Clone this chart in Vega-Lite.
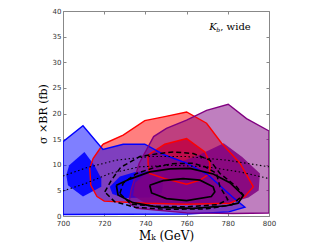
{
  "$schema": "https://vega.github.io/schema/vega-lite/v6.json",
  "width": 206,
  "height": 205,
  "autosize": {"type": "none"},
  "padding": {"left": 63, "top": 11, "right": 63, "bottom": 33},
  "background": "white",
  "config": {"view": {"stroke": null}},
  "datasets": {
    "poly": [
      {"g":"ro","i":1,"M":719.4,"s":14.0},{"g":"ro","i":2,"M":729.2,"s":15.8},{"g":"ro","i":3,"M":739.7,"s":18.6},{"g":"ro","i":4,"M":749.4,"s":19.4},{"g":"ro","i":5,"M":760,"s":20.3},{"g":"ro","i":6,"M":769.7,"s":18.1},{"g":"ro","i":7,"M":777,"s":14.2},{"g":"ro","i":8,"M":785.9,"s":10.3},{"g":"ro","i":9,"M":792.4,"s":5.7},{"g":"ro","i":10,"M":788.3,"s":3.8},{"g":"ro","i":11,"M":781,"s":2.5},{"g":"ro","i":12,"M":760,"s":2.3},{"g":"ro","i":13,"M":740,"s":2.5},{"g":"ro","i":14,"M":720,"s":2.9},{"g":"ro","i":15,"M":716.5,"s":3.8},{"g":"ro","i":16,"M":713.5,"s":6.0},{"g":"ro","i":17,"M":713,"s":9.3},{"g":"ro","i":18,"M":714.6,"s":11.2},{"g":"ro","i":19,"M":719.4,"s":14.0},
      {"g":"ri","i":1,"M":741.3,"s":11.9},{"g":"ri","i":2,"M":749.4,"s":14.0},{"g":"ri","i":3,"M":760,"s":15.1},{"g":"ri","i":4,"M":768.9,"s":12.5},{"g":"ri","i":5,"M":771.3,"s":10.3},{"g":"ri","i":6,"M":771.3,"s":8.3},{"g":"ri","i":7,"M":766.5,"s":7.0},{"g":"ri","i":8,"M":760,"s":6.2},{"g":"ri","i":9,"M":749.4,"s":7.3},{"g":"ri","i":10,"M":742,"s":8.3},{"g":"ri","i":11,"M":741.3,"s":10.3},{"g":"ri","i":12,"M":741.3,"s":11.9},
      {"g":"bo","i":1,"M":700,"s":14.5},{"g":"bo","i":2,"M":709.7,"s":17.6},{"g":"bo","i":3,"M":719.4,"s":13.0},{"g":"bo","i":4,"M":729.2,"s":14.0},{"g":"bo","i":5,"M":739.7,"s":14.0},{"g":"bo","i":6,"M":749.4,"s":11.9},{"g":"bo","i":7,"M":760,"s":10.3},{"g":"bo","i":8,"M":770.5,"s":8.0},{"g":"bo","i":9,"M":782,"s":3.8},{"g":"bo","i":10,"M":788.3,"s":1.7},{"g":"bo","i":11,"M":780.5,"s":0.8},{"g":"bo","i":12,"M":760,"s":0.4},{"g":"bo","i":13,"M":700,"s":0.3},{"g":"bo","i":14,"M":700,"s":14.5},
      {"g":"bi1","i":1,"M":710.4,"s":12.5},{"g":"bi1","i":2,"M":715.2,"s":9.9},{"g":"bi1","i":3,"M":718.6,"s":7.3},{"g":"bi1","i":4,"M":718.6,"s":5.7},{"g":"bi1","i":5,"M":709.7,"s":3.8},{"g":"bi1","i":6,"M":702.4,"s":6.0},{"g":"bi1","i":7,"M":701.6,"s":8.0},{"g":"bi1","i":8,"M":703,"s":9.9},{"g":"bi1","i":9,"M":710.4,"s":12.5},
      {"g":"bi2","i":1,"M":722.7,"s":5.7},{"g":"bi2","i":2,"M":727.6,"s":7.7},{"g":"bi2","i":3,"M":735,"s":8.6},{"g":"bi2","i":4,"M":742,"s":8.8},{"g":"bi2","i":5,"M":748.6,"s":6.5},{"g":"bi2","i":6,"M":748,"s":4.5},{"g":"bi2","i":7,"M":742,"s":3.6},{"g":"bi2","i":8,"M":730,"s":3.5},{"g":"bi2","i":9,"M":724,"s":4.3},{"g":"bi2","i":10,"M":722.7,"s":5.7},
      {"g":"po","i":1,"M":732,"s":2.5},{"g":"po","i":2,"M":733,"s":5.0},{"g":"po","i":3,"M":737,"s":10.3},{"g":"po","i":4,"M":744,"s":15.5},{"g":"po","i":5,"M":750.2,"s":17.1},{"g":"po","i":6,"M":760,"s":18.7},{"g":"po","i":7,"M":769.7,"s":20.6},{"g":"po","i":8,"M":780.2,"s":21.8},{"g":"po","i":9,"M":789.1,"s":19.0},{"g":"po","i":10,"M":800,"s":16.6},{"g":"po","i":11,"M":800,"s":0.6},{"g":"po","i":12,"M":782.7,"s":0.5},{"g":"po","i":13,"M":760,"s":0.6},{"g":"po","i":14,"M":735.7,"s":1.5},{"g":"po","i":15,"M":732,"s":2.5},
      {"g":"pi","i":1,"M":778,"s":14.2},{"g":"pi","i":2,"M":787,"s":11.5},{"g":"pi","i":3,"M":795.6,"s":8.3},{"g":"pi","i":4,"M":795,"s":5.0},{"g":"pi","i":5,"M":790,"s":3.6},{"g":"pi","i":6,"M":780,"s":2.4},{"g":"pi","i":7,"M":760,"s":2.2},{"g":"pi","i":8,"M":740,"s":2.5},{"g":"pi","i":9,"M":734,"s":4.0},{"g":"pi","i":10,"M":735,"s":6.5},{"g":"pi","i":11,"M":740,"s":8.3},{"g":"pi","i":12,"M":752,"s":9.8},{"g":"pi","i":13,"M":766,"s":11.9},{"g":"pi","i":14,"M":778,"s":14.2},
      {"g":"so","i":1,"M":725.9,"s":6.0},{"g":"so","i":2,"M":732.4,"s":7.2},{"g":"so","i":3,"M":742.1,"s":8.6},{"g":"so","i":4,"M":752,"s":9.2},{"g":"so","i":5,"M":761.6,"s":9.3},{"g":"so","i":6,"M":772.9,"s":8.2},{"g":"so","i":7,"M":781,"s":6.5},{"g":"so","i":8,"M":787.5,"s":4.0},{"g":"so","i":9,"M":785,"s":2.5},{"g":"so","i":10,"M":779.4,"s":2.0},{"g":"so","i":11,"M":763.2,"s":1.5},{"g":"so","i":12,"M":747,"s":1.7},{"g":"so","i":13,"M":734,"s":2.6},{"g":"so","i":14,"M":726.7,"s":4.1},{"g":"so","i":15,"M":725.9,"s":6.0},
      {"g":"si","i":1,"M":742.1,"s":6.0},{"g":"si","i":2,"M":748.6,"s":6.9},{"g":"si","i":3,"M":758.3,"s":7.3},{"g":"si","i":4,"M":766.5,"s":7.0},{"g":"si","i":5,"M":772.9,"s":5.7},{"g":"si","i":6,"M":773.7,"s":4.7},{"g":"si","i":7,"M":772,"s":3.8},{"g":"si","i":8,"M":760,"s":3.0},{"g":"si","i":9,"M":750.2,"s":3.4},{"g":"si","i":10,"M":743,"s":4.5},{"g":"si","i":11,"M":742.1,"s":6.0},
      {"g":"do","i":1,"M":720.3,"s":4.7},{"g":"do","i":2,"M":723.5,"s":7.0},{"g":"do","i":3,"M":728,"s":9.5},{"g":"do","i":4,"M":737.3,"s":11.6},{"g":"do","i":5,"M":747,"s":12.2},{"g":"do","i":6,"M":753.5,"s":12.5},{"g":"do","i":7,"M":763.2,"s":12.2},{"g":"do","i":8,"M":771.3,"s":10.9},{"g":"do","i":9,"M":776.2,"s":8.3},{"g":"do","i":10,"M":784.3,"s":5.7},{"g":"do","i":11,"M":787.5,"s":4.1},{"g":"do","i":12,"M":782,"s":2.2},{"g":"do","i":13,"M":770,"s":1.4},{"g":"do","i":14,"M":750,"s":1.3},{"g":"do","i":15,"M":735,"s":1.7},{"g":"do","i":16,"M":725,"s":2.8},{"g":"do","i":17,"M":720.3,"s":4.7},
      {"g":"di","i":1,"M":727.6,"s":4.4},{"g":"di","i":2,"M":729.2,"s":6.4},{"g":"di","i":3,"M":735.7,"s":8.3},{"g":"di","i":4,"M":745.4,"s":9.6},{"g":"di","i":5,"M":753,"s":10.2},{"g":"di","i":6,"M":763.2,"s":10.3},{"g":"di","i":7,"M":769,"s":9.6},{"g":"di","i":8,"M":774.5,"s":8.3},{"g":"di","i":9,"M":776.2,"s":5.7},{"g":"di","i":10,"M":780,"s":3.2},{"g":"di","i":11,"M":775,"s":2.2},{"g":"di","i":12,"M":760,"s":1.8},{"g":"di","i":13,"M":745,"s":1.9},{"g":"di","i":14,"M":733,"s":2.3},{"g":"di","i":15,"M":727.6,"s":4.4},
      {"g":"du","i":1,"M":700,"s":7.8},{"g":"du","i":2,"M":711.3,"s":9.4},{"g":"du","i":3,"M":725.9,"s":10.9},{"g":"du","i":4,"M":742,"s":11.6},{"g":"du","i":5,"M":760,"s":11.6},{"g":"du","i":6,"M":779.4,"s":10.9},{"g":"du","i":7,"M":800,"s":9.6},
      {"g":"dl","i":1,"M":700,"s":4.9},{"g":"dl","i":2,"M":711.3,"s":6.4},{"g":"dl","i":3,"M":722.7,"s":8.3},{"g":"dl","i":4,"M":737.3,"s":9.6},{"g":"dl","i":5,"M":753.5,"s":9.9},{"g":"dl","i":6,"M":769.7,"s":9.6},{"g":"dl","i":7,"M":785.9,"s":8.6},{"g":"dl","i":8,"M":800,"s":7.3}
    ]
  },
  "data": {"name": "poly"},
  "encoding": {
    "x": {"field": "M", "type": "quantitative", "scale": {"domain": [700, 800], "nice": false, "zero": false}, "axis": null},
    "y": {"field": "s", "type": "quantitative", "scale": {"domain": [0, 40], "nice": false, "zero": true}, "axis": null},
    "order": {"field": "i", "type": "quantitative"}
  },
  "layer": [
    {"transform": [{"filter": "datum.g == 'ro'"}], "mark": {"type": "line", "fill": "#ff0000", "fillOpacity": 0.5, "strokeOpacity": 0, "clip": true}},
    {"transform": [{"filter": "datum.g == 'ri'"}], "mark": {"type": "line", "fill": "#ff0000", "fillOpacity": 0.8, "strokeOpacity": 0, "clip": true}},
    {"transform": [{"filter": "datum.g == 'bo'"}], "mark": {"type": "line", "fill": "#0000ff", "fillOpacity": 0.5, "strokeOpacity": 0, "clip": true}},
    {"transform": [{"filter": "datum.g == 'bi1'"}], "mark": {"type": "line", "fill": "#0000ff", "fillOpacity": 0.9, "strokeOpacity": 0, "clip": true}},
    {"transform": [{"filter": "datum.g == 'bi2'"}], "mark": {"type": "line", "fill": "#0000ff", "fillOpacity": 0.9, "strokeOpacity": 0, "clip": true}},
    {"transform": [{"filter": "datum.g == 'po'"}], "mark": {"type": "line", "fill": "#800080", "fillOpacity": 0.5, "strokeOpacity": 0, "clip": true}},
    {"transform": [{"filter": "datum.g == 'pi'"}], "mark": {"type": "line", "fill": "#800080", "fillOpacity": 0.85, "strokeOpacity": 0, "clip": true}},
    {"transform": [{"filter": "datum.g == 'ro'"}], "mark": {"type": "line", "color": "#ff0000", "strokeWidth": 1.4, "clip": true}},
    {"transform": [{"filter": "datum.g == 'ri'"}], "mark": {"type": "line", "color": "#ff0000", "strokeWidth": 1.4, "clip": true}},
    {"transform": [{"filter": "datum.g == 'bo'"}], "mark": {"type": "line", "color": "#0000ff", "strokeWidth": 1.4, "clip": true}},
    {"transform": [{"filter": "datum.g == 'po'"}], "mark": {"type": "line", "color": "#800080", "strokeWidth": 1.4, "clip": true}},
    {"transform": [{"filter": "datum.g == 'so'"}], "mark": {"type": "line", "color": "#000000", "strokeWidth": 1.7, "clip": true}},
    {"transform": [{"filter": "datum.g == 'si'"}], "mark": {"type": "line", "color": "#000000", "strokeWidth": 1.7, "clip": true}},
    {"transform": [{"filter": "datum.g == 'do'"}], "mark": {"type": "line", "color": "#000000", "strokeWidth": 1.5, "strokeDash": [5, 3], "clip": true}},
    {"transform": [{"filter": "datum.g == 'di'"}], "mark": {"type": "line", "color": "#000000", "strokeWidth": 1.5, "strokeDash": [5, 3], "clip": true}},
    {"transform": [{"filter": "datum.g == 'du'"}], "mark": {"type": "line", "color": "#000000", "strokeWidth": 1.1, "strokeDash": [1.5, 2.5], "clip": true},
     "encoding": {
       "x": {"field": "M", "type": "quantitative", "title": "Mₖ  (GeV)", "axis": {"orient": "bottom", "values": [700, 720, 740, 760, 780, 800], "tickSize": -3, "labelPadding": 6, "domainColor": "#888888", "tickColor": "#888888", "labelColor": "#333333", "labelFont": "DejaVu Sans", "labelFontSize": 7, "labelFlush": false, "titleFont": "DejaVu Serif", "titleFontSize": 12, "titleFontWeight": "normal", "titleColor": "#000000", "titlePadding": 4, "grid": false}},
       "y": {"field": "s", "type": "quantitative", "title": "σ ×BR (fb)", "axis": {"orient": "left", "values": [0, 5, 10, 15, 20, 25, 30, 35, 40], "tickSize": -3, "labelPadding": 5, "domainColor": "#888888", "tickColor": "#888888", "labelColor": "#333333", "labelFont": "DejaVu Sans", "labelFontSize": 7, "labelFlush": false, "labelOverlap": false, "titleFont": "DejaVu Serif", "titleFontSize": 11, "titleFontWeight": "normal", "titleColor": "#000000", "titlePadding": 4, "grid": false}}
     }},
    {"transform": [{"filter": "datum.g == 'dl'"}], "mark": {"type": "line", "color": "#000000", "strokeWidth": 1.1, "strokeDash": [1.5, 2.5], "clip": true},
     "encoding": {
       "x": {"field": "M", "type": "quantitative", "axis": {"orient": "top", "values": [700, 720, 740, 760, 780, 800], "tickSize": -3, "labels": false, "title": null, "domainColor": "#888888", "tickColor": "#888888", "grid": false}},
       "y": {"field": "s", "type": "quantitative", "axis": {"orient": "right", "values": [0, 5, 10, 15, 20, 25, 30, 35, 40], "tickSize": -3, "labels": false, "title": null, "domainColor": "#888888", "tickColor": "#888888", "grid": false}}
     }},
    {"data": {"values": [{"M": 771, "s": 36.2, "t": "K"}]}, "mark": {"type": "text", "align": "left", "baseline": "alphabetic", "font": "DejaVu Serif", "fontSize": 10, "fontStyle": "italic"}, "encoding": {"text": {"field": "t"}}},
    {"data": {"values": [{"M": 771, "s": 36.2, "t": "b"}]}, "mark": {"type": "text", "align": "left", "baseline": "alphabetic", "font": "DejaVu Serif", "fontSize": 6, "fontStyle": "italic", "dx": 7, "dy": 2}, "encoding": {"text": {"field": "t"}}},
    {"data": {"values": [{"M": 771, "s": 36.2, "t": ", wide"}]}, "mark": {"type": "text", "align": "left", "baseline": "alphabetic", "font": "DejaVu Serif", "fontSize": 10, "dx": 11}, "encoding": {"text": {"field": "t"}}}
  ],
  "resolve": {"axis": {"x": "independent", "y": "independent"}}
}
